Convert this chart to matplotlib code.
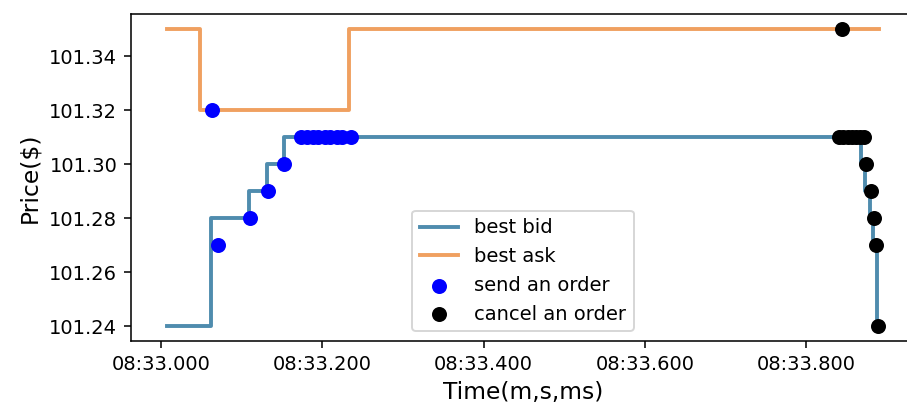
import matplotlib
matplotlib.use("Agg")
import matplotlib.pyplot as plt
from matplotlib.ticker import FuncFormatter, MultipleLocator

# seconds after 08:33
bid_t = [0.007, 0.062, 0.109, 0.131, 0.152, 0.868, 0.873, 0.879, 0.883, 0.887, 0.889]
bid_p = [101.24, 101.28, 101.29, 101.30, 101.31, 101.30, 101.29, 101.28, 101.27, 101.24, 101.24]

ask_t = [0.007, 0.048, 0.233, 0.890]
ask_p = [101.35, 101.32, 101.35, 101.35]

send_t = [0.063, 0.071, 0.110, 0.133, 0.153,
          0.173, 0.181, 0.188, 0.195, 0.203, 0.210, 0.218, 0.225, 0.236]
send_p = [101.32, 101.27, 101.28, 101.29, 101.30,
          101.31, 101.31, 101.31, 101.31, 101.31, 101.31, 101.31, 101.31, 101.31]

cancel_t = [0.844, 0.841, 0.846, 0.851, 0.856, 0.861, 0.866, 0.871,
            0.874, 0.880, 0.884, 0.886, 0.889]
cancel_p = [101.35, 101.31, 101.31, 101.31, 101.31, 101.31, 101.31, 101.31,
            101.30, 101.29, 101.28, 101.27, 101.24]

fig = plt.figure(figsize=(907 / 140, 406 / 140), dpi=140)
ax = fig.add_axes([0.1444, 0.160, 0.864, 0.805])

ax.step(bid_t, bid_p, where='post', color='#4f8cae', lw=2, label='best bid')
ax.step(ask_t, ask_p, where='post', color='#f0a060', lw=2, label='best ask')
ax.scatter(send_t, send_p, c='blue', s=45, zorder=3, label='send an order')
ax.scatter(cancel_t, cancel_p, c='black', s=45, zorder=3, label='cancel an order')

ax.xaxis.set_major_locator(MultipleLocator(0.2))
ax.xaxis.set_major_formatter(FuncFormatter(lambda v, pos: "08:33.%03d" % round(v * 1000)))
ax.set_xlabel('Time(m,s,ms)', fontsize=12)
ax.set_ylabel('Price($)', fontsize=12)

ax.legend(loc='lower center')
fig.savefig('out.png', dpi=140)
